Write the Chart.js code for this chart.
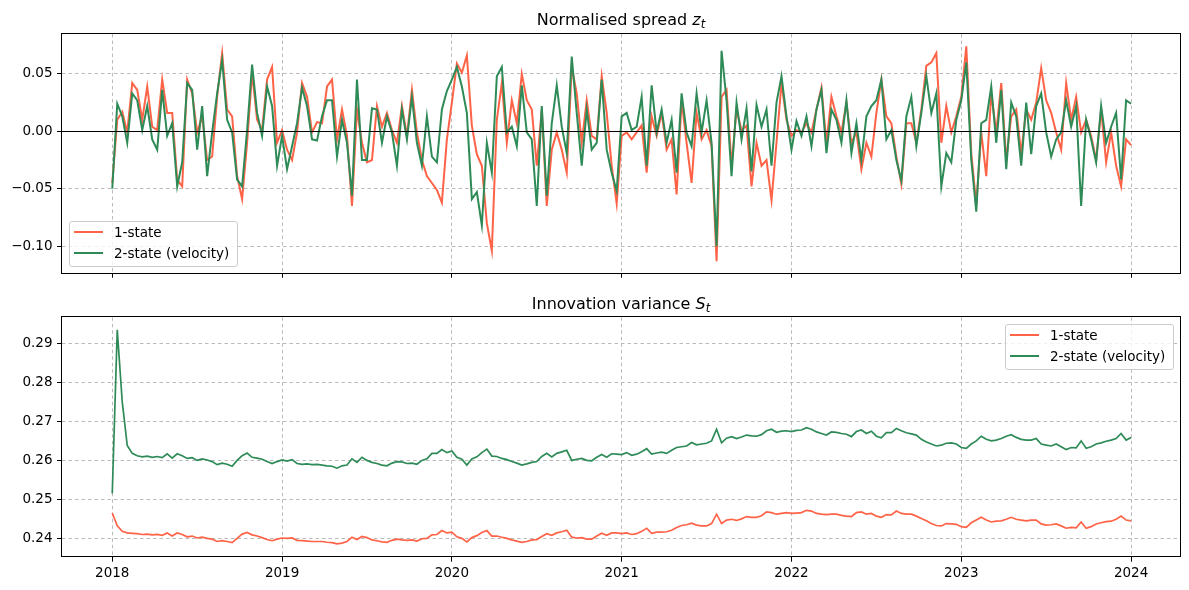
<!DOCTYPE html>
<html>
<head>
<meta charset="utf-8">
<script src="https://cdn.jsdelivr.net/npm/chart.js@4.4.1/dist/chart.umd.min.js"></script>
<style>
  body { margin: 0; background: #fff; font-family: "DejaVu Sans", sans-serif; }
  #wrap { position: relative; width: 1189px; height: 590px; overflow: hidden; }
  canvas { position: absolute; left: 0; }
  .title { position: absolute; left: 62px; width: 1118px; text-align: center; font-size: 16px; line-height: 20px; color: #000; }
  .title sub { font-size: 11.5px; line-height: 0; vertical-align: -3px; }
  .legend { position: absolute; width: 169px; height: 46px; border: 1px solid #ccc; border-radius: 3px; background: rgba(255,255,255,0.8); box-sizing: border-box; }
  .legend .sw { position: absolute; left: 4px; width: 29px; height: 2px; }
  .legend .lbl { position: absolute; left: 44px; font-size: 13.5px; line-height: 16px; white-space: nowrap; color: #000; }
</style>
</head>
<body>
<div id="wrap">
  <canvas id="spreadChart" width="1189" height="295" style="top:0"></canvas>
  <canvas id="varChart" width="1189" height="295" style="top:295px"></canvas>
  <div class="title" style="top:10px">Normalised spread <i>z</i><sub><i>t</i></sub></div>
  <div class="title" style="top:294px">Innovation variance <i>S</i><sub><i>t</i></sub></div>
</div>
<script>
// sampling calendar: 34 samples per year, 2018.0 .. 2024.0
var sampleYears = Array.from({ length: 205 }, function (_, i) { return 2018 + i / 34; });
var yearTicks = [2018, 2019, 2020, 2021, 2022, 2023, 2024];
var spreadTicks = [-0.10, -0.05, 0.00, 0.05];
var varianceTicks = [0.24, 0.25, 0.26, 0.27, 0.28, 0.29];
var seriesNames = ['1-state', '2-state (velocity)'];

// normalised spread z_t
var spreadOneState = [
  -0.045, 0.010, 0.017, -0.001, 0.042, 0.036, 0.010, 0.039, 0.004, 0.001,
  0.045, 0.016, 0.016, -0.042, -0.048, 0.045, 0.033, -0.001, 0.013, -0.025,
  -0.022, 0.030, 0.068, 0.019, 0.013, -0.039, -0.059, -0.010, 0.051, 0.010,
  0.001, 0.045, 0.056, -0.010, 0.001, -0.016, -0.025, -0.001, 0.042, 0.030,
  -0.001,
  0.008, 0.007, 0.039, 0.045, -0.007, 0.019, -0.004, -0.065, 0.019, -0.010,
  -0.027, -0.025, 0.022, 0.004, 0.016, 0.001, -0.010, 0.022, -0.004, 0.036,
  -0.001, -0.025, -0.039, -0.045, -0.051, -0.062, -0.007, 0.025, 0.059, 0.051,
  0.066, 0.005, -0.020, -0.030, -0.080, -0.104, 0.010, 0.042, -0.010, 0.027,
  0.007,
  0.050, 0.027, 0.019, -0.030, 0.019, -0.065, -0.016, -0.001, -0.016, -0.036,
  0.056, 0.033, -0.010, 0.027, -0.004, -0.007, 0.048, 0.016, -0.030, -0.063,
  -0.004, -0.001, -0.007, -0.001, 0.005, -0.036, 0.013, -0.004, 0.016, -0.016,
  -0.007, -0.055, 0.027, -0.010, -0.045, 0.016, -0.007, 0.001, -0.013, -0.113,
  0.030,
  0.036, -0.030, 0.019, 0.001, 0.005, -0.048, -0.010, -0.030, -0.025, -0.060,
  -0.010, 0.042, 0.010, -0.004, 0.001, -0.001, 0.007, -0.001, 0.019, 0.038,
  -0.010, 0.030, 0.013, -0.001, 0.025, -0.010, -0.001, -0.033, -0.010, -0.022,
  0.016, 0.045, 0.013, 0.007, -0.022, -0.046, 0.007, 0.007, -0.010, 0.019,
  0.057,
  0.060, 0.068, -0.010, 0.022, -0.001, 0.013, 0.030, 0.074, -0.019, -0.064,
  -0.001, -0.039, 0.033, -0.001, 0.042, -0.025, 0.013, 0.019, -0.019, 0.019,
  0.010, 0.025, 0.055, 0.027, 0.016, -0.001, -0.016, 0.042, 0.010, 0.030,
  -0.001, 0.010, -0.004, -0.025, 0.019, -0.027, -0.001, -0.030, -0.048, -0.007,
  -0.012
];
var spreadVelocity = [
  -0.050, 0.024, 0.013, -0.010, 0.033, 0.027, 0.001, 0.022, -0.007, -0.016,
  0.036, -0.004, 0.007, -0.048, -0.027, 0.042, 0.036, -0.016, 0.022, -0.039,
  -0.001, 0.033, 0.062, 0.010, -0.001, -0.042, -0.048, 0.001, 0.058, 0.016,
  -0.004, 0.039, 0.022, -0.030, -0.004, -0.033, -0.013, 0.007, 0.038, 0.022,
  -0.007,
  -0.008, 0.013, 0.027, 0.027, -0.022, 0.010, -0.010, -0.056, 0.045, -0.025,
  -0.025, 0.020, 0.019, -0.010, 0.013, -0.001, -0.030, 0.019, -0.007, 0.030,
  -0.010, -0.030, 0.013, -0.022, -0.027, 0.019, 0.035, 0.045, 0.056, 0.039,
  0.016, -0.059, -0.053, -0.082, -0.010, -0.036, 0.048, 0.056, -0.001, 0.004,
  -0.013,
  0.040, -0.001, -0.007, -0.065, 0.022, -0.056, 0.007, 0.040, 0.004, -0.019,
  0.065, 0.016, -0.030, 0.019, -0.016, -0.010, 0.045, -0.016, -0.036, -0.052,
  0.013, 0.016, 0.001, 0.004, 0.030, -0.030, 0.040, -0.001, 0.019, -0.010,
  0.010, -0.036, 0.033, -0.001, -0.013, 0.033, -0.001, 0.027, -0.010, -0.100,
  0.070,
  0.027, -0.039, 0.025, -0.007, 0.020, -0.035, 0.023, 0.004, 0.019, -0.030,
  0.025, 0.048, 0.013, -0.016, 0.009, -0.004, 0.013, -0.013, 0.019, 0.036,
  -0.019, 0.019, 0.010, -0.010, 0.027, -0.019, 0.007, -0.025, 0.013, 0.022,
  0.027, 0.045, -0.007, 0.001, -0.025, -0.043, 0.013, 0.030, -0.013, 0.016,
  0.048,
  0.016, 0.033, -0.048, -0.019, -0.027, 0.010, 0.027, 0.060, -0.025, -0.070,
  0.007, 0.010, 0.039, -0.010, 0.036, -0.033, 0.025, 0.013, -0.030, 0.025,
  -0.020, 0.022, 0.033, -0.001, -0.022, -0.007, -0.001, 0.027, 0.004, 0.022,
  -0.065, 0.010, -0.007, -0.027, 0.022, -0.010, 0.004, 0.016, -0.042, 0.027,
  0.024
];

// innovation variance S_t
var varianceOneState = [
  0.2465, 0.2432, 0.2418, 0.2414, 0.2413, 0.2412, 0.2410, 0.2411, 0.2409, 0.2410,
  0.2408, 0.2414, 0.2406, 0.2414, 0.2410, 0.2404, 0.2406, 0.2401, 0.2403, 0.2400,
  0.2398, 0.2392, 0.2394, 0.2392, 0.2389, 0.2400, 0.2411, 0.2415, 0.2409, 0.2406,
  0.2402, 0.2397, 0.2394, 0.2398, 0.2401, 0.2400, 0.2401, 0.2395, 0.2394, 0.2393,
  0.2392, 0.2392, 0.2392, 0.2390, 0.2389, 0.2386, 0.2388, 0.2392, 0.2403, 0.2397,
  0.2405, 0.2402, 0.2396, 0.2394, 0.2391, 0.2390, 0.2395, 0.2398, 0.2396, 0.2395,
  0.2396,
  0.2393, 0.2399, 0.2400, 0.2409, 0.2410, 0.2420, 0.2414, 0.2416, 0.2404, 0.2400,
  0.2391, 0.2402, 0.2407, 0.2415, 0.2420, 0.2406, 0.2406, 0.2403, 0.2400, 0.2396,
  0.2393, 0.2390, 0.2392, 0.2396, 0.2397, 0.2405, 0.2412, 0.2408, 0.2414, 0.2417,
  0.2421, 0.2403, 0.2401, 0.2402, 0.2398, 0.2398, 0.2406, 0.2413, 0.2408, 0.2414,
  0.2414, 0.2412, 0.2414, 0.2410, 0.2412, 0.2418, 0.2426, 0.2413, 0.2416, 0.2416,
  0.2417, 0.2421, 0.2428, 0.2433, 0.2435, 0.2439, 0.2434, 0.2432, 0.2432, 0.2438,
  0.2462, 0.2438, 0.2447, 0.2449, 0.2446, 0.2450, 0.2456, 0.2454, 0.2454, 0.2458,
  0.2468, 0.2466, 0.2462, 0.2464, 0.2466, 0.2464, 0.2465, 0.2466, 0.2472, 0.2470,
  0.2464,
  0.2462, 0.2461, 0.2462, 0.2462, 0.2459, 0.2457, 0.2456, 0.2466, 0.2468, 0.2462,
  0.2464, 0.2457, 0.2454, 0.2461, 0.2460, 0.2470, 0.2464, 0.2462, 0.2462, 0.2457,
  0.2451, 0.2445, 0.2438, 0.2433, 0.2432, 0.2438, 0.2437, 0.2436, 0.2430, 0.2428,
  0.2440, 0.2447, 0.2454, 0.2447, 0.2442, 0.2444, 0.2445, 0.2449, 0.2454, 0.2449,
  0.2447, 0.2445, 0.2447, 0.2447, 0.2437, 0.2434, 0.2435, 0.2437, 0.2432, 0.2426,
  0.2428, 0.2427, 0.2442, 0.2426, 0.2430, 0.2437, 0.2440, 0.2443, 0.2444, 0.2449,
  0.2457, 0.2447, 0.2445
];
var varianceVelocity = [
  0.2515, 0.2935, 0.2750, 0.2638, 0.2618, 0.2612, 0.2609, 0.2611, 0.2608, 0.2610,
  0.2607, 0.2617, 0.2606, 0.2617, 0.2612, 0.2605, 0.2607, 0.2600, 0.2604, 0.2601,
  0.2597, 0.2589, 0.2593, 0.2590, 0.2585, 0.2600, 0.2612, 0.2619, 0.2608, 0.2606,
  0.2603, 0.2597, 0.2592, 0.2597, 0.2601, 0.2598, 0.2602, 0.2592, 0.2590, 0.2591,
  0.2589, 0.2590, 0.2588, 0.2586, 0.2585, 0.2580, 0.2586, 0.2588, 0.2604, 0.2595,
  0.2608, 0.2600, 0.2595, 0.2592, 0.2588, 0.2586, 0.2593, 0.2597, 0.2596, 0.2592,
  0.2593,
  0.2590, 0.2600, 0.2604, 0.2618, 0.2618, 0.2628, 0.2620, 0.2624, 0.2608, 0.2603,
  0.2588, 0.2604, 0.2609, 0.2620, 0.2629, 0.2611, 0.2610, 0.2605, 0.2602, 0.2597,
  0.2593, 0.2588, 0.2591, 0.2595, 0.2597, 0.2610, 0.2618, 0.2609, 0.2618, 0.2622,
  0.2626, 0.2600, 0.2603, 0.2605, 0.2600, 0.2599, 0.2608, 0.2615, 0.2608, 0.2617,
  0.2616, 0.2615, 0.2620, 0.2613, 0.2616, 0.2622, 0.2630, 0.2616, 0.2619, 0.2621,
  0.2618, 0.2626, 0.2633, 0.2635, 0.2637, 0.2646, 0.2640, 0.2642, 0.2644, 0.2650,
  0.2680, 0.2645, 0.2657, 0.2661, 0.2656, 0.2660, 0.2665, 0.2663, 0.2662, 0.2666,
  0.2676, 0.2680, 0.2672, 0.2675, 0.2676, 0.2674, 0.2677, 0.2678, 0.2684, 0.2680,
  0.2673,
  0.2669, 0.2665, 0.2673, 0.2672, 0.2669, 0.2667, 0.2661, 0.2674, 0.2678, 0.2669,
  0.2675, 0.2662, 0.2658, 0.2671, 0.2671, 0.2682, 0.2676, 0.2671, 0.2668, 0.2665,
  0.2654, 0.2647, 0.2642, 0.2637, 0.2639, 0.2644, 0.2645, 0.2642, 0.2633, 0.2631,
  0.2642, 0.2650, 0.2662, 0.2654, 0.2650, 0.2652, 0.2656, 0.2662, 0.2666, 0.2659,
  0.2654, 0.2652, 0.2652, 0.2656, 0.2642, 0.2639, 0.2637, 0.2642, 0.2635, 0.2628,
  0.2633, 0.2632, 0.2650, 0.2631, 0.2635, 0.2642, 0.2645, 0.2649, 0.2652, 0.2656,
  0.2669, 0.2652, 0.2659
];

var RED = '#ff6347';
var GREEN = '#2e8b57';

Chart.defaults.font.family = '"DejaVu Sans", sans-serif';
Chart.defaults.font.size = 13.5;
Chart.defaults.color = '#000';

function points(values) {
  return values.map(function (v, i) { return { x: sampleYears[i], y: v }; });
}

function fixedTicks(list) {
  return function (scale) {
    scale.ticks = list.map(function (v) { return { value: v }; });
  };
}

function fmt(v) {
  return v.toFixed(2).replace('-', '\u2212');
}

// box round the plot and the black zero line
var framePlugin = {
  id: 'frame',
  afterDatasetsDraw: function (chart, args, opts) {
    var ctx = chart.ctx, a = chart.chartArea;
    ctx.save();
    ctx.strokeStyle = '#000';
    ctx.lineWidth = 1;
    if (opts.zeroLine) {
      var y = Math.round(chart.scales.y.getPixelForValue(0)) + 0.5;
      ctx.beginPath();
      ctx.moveTo(a.left, y);
      ctx.lineTo(a.right, y);
      ctx.stroke();
    }
    ctx.strokeRect(Math.round(a.left) - 0.5, Math.round(a.top) - 0.5,
      Math.round(a.right - a.left) + 1, Math.round(a.bottom - a.top) + 1);
    ctx.restore();
  }
};

var grid = { color: '#a8a8a8', lineWidth: 0.8, tickLength: 5, tickColor: '#000', tickWidth: 1 };
var border = { display: false, dash: [3.5, 3] };

function makeChart(id, opts) {
  return new Chart(document.getElementById(id), {
    type: 'line',
    data: {
      datasets: [
        { label: seriesNames[0], data: points(opts.red), borderColor: RED, backgroundColor: RED,
          borderWidth: opts.lw, pointRadius: 0, order: 2 },
        { label: seriesNames[1], data: points(opts.green), borderColor: GREEN, backgroundColor: GREEN,
          borderWidth: opts.lw, pointRadius: 0, order: 1 }
      ]
    },
    options: {
      responsive: false,
      animation: false,
      events: [],
      layout: { padding: { top: opts.padTop, right: 9, bottom: 0, left: 0 } },
      plugins: {
        legend: { display: false },
        tooltip: { enabled: false },
        frame: { zeroLine: opts.zeroLine }
      },
      scales: {
        x: {
          type: 'linear', min: 2017.704, max: 2024.288,
          afterBuildTicks: fixedTicks(yearTicks),
          afterFit: function (s) { s.height = opts.xHeight; },
          ticks: { display: opts.showYears, padding: 3.5, callback: function (v) { return String(v); } },
          grid: grid, border: border
        },
        y: {
          min: opts.yMin, max: opts.yMax,
          afterBuildTicks: fixedTicks(opts.yTicks),
          afterFit: function (s) { s.width = 62; },
          ticks: { padding: 4.5, callback: fmt },
          grid: grid, border: border
        }
      }
    },
    plugins: [framePlugin]
  });
}

makeChart('spreadChart', {
  red: spreadOneState, green: spreadVelocity, lw: 2, padTop: 34, xHeight: 22.3,
  yMin: -0.1231, yMax: 0.0847, yTicks: spreadTicks, zeroLine: true, showYears: false
});
makeChart('varChart', {
  red: varianceOneState, green: varianceVelocity, lw: 1.7, padTop: 22.3, xHeight: 33.3,
  yMin: 0.2353, yMax: 0.2967, yTicks: varianceTicks, zeroLine: false, showYears: true
});

// legends in the matplotlib style
function addLegend(left, top) {
  var box = document.createElement('div');
  box.className = 'legend';
  box.style.left = left + 'px';
  box.style.top = top + 'px';
  [RED, GREEN].forEach(function (c, i) {
    var sw = document.createElement('div');
    sw.className = 'sw';
    sw.style.background = c;
    sw.style.top = (9.3 + 21 * i) + 'px';
    box.appendChild(sw);
    var lbl = document.createElement('div');
    lbl.className = 'lbl';
    lbl.style.top = (2.3 + 21 * i) + 'px';
    lbl.textContent = seriesNames[i];
    box.appendChild(lbl);
  });
  document.getElementById('wrap').appendChild(box);
}
addLegend(69, 221);
addLegend(1005, 324);
</script>
</body>
</html>
